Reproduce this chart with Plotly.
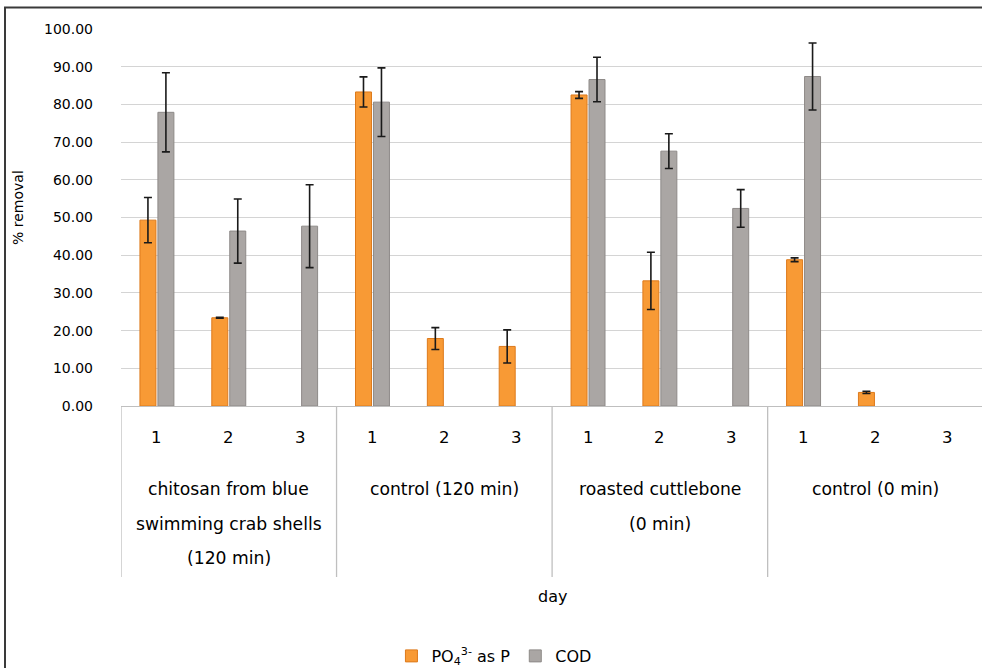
import plotly.graph_objects as go

groups = ["chitosan from blue swimming crab shells (120 min)", "control (120 min)",
          "roasted cuttlebone (0 min)", "control (0 min)"]
group_lines = [["chitosan from blue", "swimming crab shells", "(120 min)"],
               ["control (120 min)"],
               ["roasted cuttlebone", "(0 min)"],
               ["control (0 min)"]]
days = ["1", "2", "3"]

po4 = [49.3, 23.4, None, 83.3, 17.9, 15.8, 82.5, 33.2, None, 38.8, 3.6, None]
po4_err = [6.0, 0.1, 0, 4.0, 2.9, 4.4, 0.9, 7.6, 0, 0.5, 0.3, 0]
cod = [77.9, 46.4, 47.7, 80.6, None, None, 86.6, 67.6, 52.4, 87.4, None, None]
cod_err = [10.5, 8.5, 11.0, 9.1, 0, 0, 5.9, 4.6, 5.0, 8.9, 0, 0]

yticks = [0, 10, 20, 30, 40, 50, 60, 70, 80, 90, 100]

W, H = 982, 668
L, R, T, B = 121, 0, 29, 262
plot_h = H - T - B
plot_w = W - L - R
slot = 71.85
xs = list(range(len(po4)))

def py(p):
    return (406 - p) / plot_h

def px(p):
    return (p - L) / plot_w

FONT = "DejaVu Sans"

fig = go.Figure()
fig.add_trace(go.Bar(
    x=xs, y=po4, name="PO<sub>4</sub><sup>3-</sup> as P",
    marker=dict(color="#F89A35", line=dict(color="#DD7A1C", width=1)),
    error_y=dict(type="data", array=po4_err, color="#1a1a1a", thickness=1.6, width=4),
))
fig.add_trace(go.Bar(
    x=xs, y=cod, name="COD",
    marker=dict(color="#AAA6A4", line=dict(color="#8E8A88", width=1)),
    error_y=dict(type="data", array=cod_err, color="#1a1a1a", thickness=1.6, width=4),
))

shapes = []
for b in [-0.5, 2.5, 5.5, 8.5]:
    shapes.append(dict(type="line", xref="x", yref="paper", x0=b, x1=b,
                       y0=0, y1=py(577), line=dict(color="#BFBFBF", width=1.3)))
shapes.append(dict(type="rect", xref="paper", yref="paper",
                   x0=px(5), x1=px(W + 20), y0=py(7.5), y1=py(H + 20),
                   line=dict(color="#3A3A3A", width=2), fillcolor="rgba(0,0,0,0)"))

annotations = []
for i in xs:
    annotations.append(dict(x=i, xref="x", y=py(437.5), yref="paper",
                            text=days[i % 3], showarrow=False,
                            font=dict(family=FONT, size=16.5, color="#000000"),
                            xanchor="center", yanchor="middle"))
line_y = [488.5, 523.5, 558]
for g, lines in enumerate(group_lines):
    for k, t in enumerate(lines):
        annotations.append(dict(x=g * 3 + 1, xref="x", y=py(line_y[k]), yref="paper",
                                text=t, showarrow=False,
                                font=dict(family=FONT, size=17.2, color="#000000"),
                                xanchor="center", yanchor="middle"))
annotations.append(dict(x=px(552), xref="paper", y=py(596), yref="paper", text="day",
                        showarrow=False, font=dict(family=FONT, size=16, color="#000000"),
                        xanchor="center", yanchor="middle"))
annotations.append(dict(x=px(18), xref="paper", y=py(208), yref="paper", text="% removal",
                        textangle=-90, showarrow=False,
                        font=dict(family=FONT, size=14, color="#000000"),
                        xanchor="center", yanchor="middle"))

fig.update_layout(
    width=W, height=H,
    margin=dict(l=L, r=R, t=T, b=B, autoexpand=False),
    paper_bgcolor="white", plot_bgcolor="white",
    barmode="group", bargap=0.5, bargroupgap=0.11,
    showlegend=True,
    legend=dict(orientation="h", xref="container", x=0.503, xanchor="center",
                yref="container", y=0.018, yanchor="middle",
                font=dict(family=FONT, size=16, color="#000000"),
                itemwidth=30, traceorder="normal"),
    shapes=shapes, annotations=annotations,
    xaxis=dict(range=[-0.5, -0.5 + plot_w / slot], showticklabels=False,
               showgrid=False, zeroline=False, showline=True,
               linecolor="#BFBFBF", linewidth=1.3, ticks=""),
    yaxis=dict(range=[0, 100], tickvals=yticks, tickformat=".2f",
               showgrid=True, gridcolor="#D4D4D4", gridwidth=1.4,
               zeroline=False, showline=False, ticks="",
               ticklabelstandoff=27,
               tickfont=dict(family=FONT, size=14, color="#000000")),
)

fig.write_html("out.html", config={"displayModeBar": False})
with open("out.html", "r", encoding="utf-8") as f:
    html = f.read()
html = html.replace("<body>", '<body style="margin:0;padding:0;overflow:hidden">', 1)
with open("out.html", "w", encoding="utf-8") as f:
    f.write(html)
